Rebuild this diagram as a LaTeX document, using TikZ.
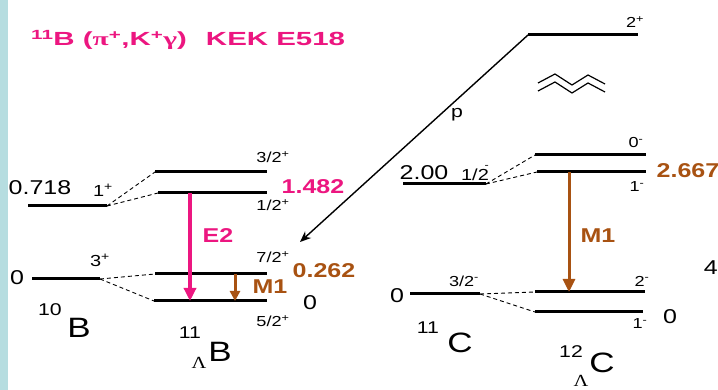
\documentclass[tikz,border=0pt]{standalone}
\usepackage{fontspec}
\setmainfont{Liberation Sans}[FakeStretch=1.25]
\newfontfamily\serf{Liberation Serif}[FakeStretch=1.2]
\newfontfamily\titlefont{Liberation Sans}[FakeStretch=1.55]
\newfontfamily\titleserf{Liberation Serif}[FakeStretch=1.55]
\usetikzlibrary{arrows.meta}
\definecolor{hotpink}{RGB}{236,22,128}
\definecolor{brn}{RGB}{168,82,18}
\definecolor{stripe}{RGB}{182,221,224}
\begin{document}
\begin{tikzpicture}[x=1pt,y=-1pt,
  lvl/.style={line width=3pt},
  dsh/.style={line width=0.9pt, dash pattern=on 4pt off 3pt},
  spin/.style={font=\fontsize{14.5}{14.5}\selectfont, inner sep=0pt},
  bspin/.style={font=\fontsize{16}{16}\selectfont, inner sep=0pt},
  energy/.style={font=\fontsize{20}{20}\selectfont, inner sep=0pt},
  cenergy/.style={font=\bfseries\fontsize{20}{20}\selectfont, inner sep=0pt},
  mult/.style={font=\bfseries\fontsize{20}{20}\selectfont, inner sep=0pt},
  nucl/.style={font=\fontsize{28}{28}\selectfont, inner sep=0pt},
  mass/.style={font=\fontsize{17}{17}\selectfont, inner sep=0pt},
  lam/.style={font=\serf\fontsize{17}{17}\selectfont, inner sep=0pt},
  bigarrow/.style={line width=3.5pt, -{Triangle[length=13pt,width=12pt]}},
  smallarrow/.style={line width=3pt, -{Triangle[length=10pt,width=10pt]}}
]
\useasboundingbox (0,0) rectangle (718,390);
\fill[stripe] (0,0) rectangle (8,390);

% title
\node[anchor=west, inner sep=0pt, text=hotpink, font=\titlefont\bfseries\fontsize{19}{19}\selectfont] (title) at (31,40)
  {\textsuperscript{11}B ({\titleserf\bfseries π}\textsuperscript{+},K\textsuperscript{+}{\titleserf\bfseries γ})\hspace{1.0em}KEK E518};

% ---- 10B ----
\coordinate (b1a) at (28,206); \coordinate (b1b) at (107,206);
\coordinate (b0a) at (32,279); \coordinate (b0b) at (100,279);
\draw[lvl] (b1a) -- (b1b);
\draw[lvl] (b0a) -- (b0b);
\node[energy] (e0718) at (40,188) {0.718};
\node[bspin] (s1p) at (103,190) {1\textsuperscript{+}};
\node[energy] (e0b) at (17,278) {0};
\node[bspin] (s3p) at (100,260) {3\textsuperscript{+}};
\node[mass] (m10) at (50,310) {10};
\node[nucl] (n10B) at (79,328) {B};

% ---- 11 Lambda B ----
\coordinate (l32a) at (155,172); \coordinate (l32b) at (267,172);
\coordinate (l12a) at (158,193); \coordinate (l12b) at (267,193);
\coordinate (l72a) at (155,274); \coordinate (l72b) at (267,274);
\coordinate (l52a) at (154,301); \coordinate (l52b) at (267,301);
\draw[lvl] (l32a) -- (l32b);
\draw[lvl] (l12a) -- (l12b);
\draw[lvl] (l72a) -- (l72b);
\draw[lvl] (l52a) -- (l52b);
\draw[dsh] (b1b) -- (l32a);
\draw[dsh] (b1b) -- (l12a);
\draw[dsh] (b0b) -- (l72a);
\draw[dsh] (b0b) -- (l52a);
\node[spin] (s32) at (273,157) {3/2\textsuperscript{+}};
\node[spin] (s12) at (273,205) {1/2\textsuperscript{+}};
\node[spin] (s72) at (273,257) {7/2\textsuperscript{+}};
\node[spin] (s52) at (273,321) {5/2\textsuperscript{+}};
\node[energy] (e0l) at (310,303) {0};
\node[cenergy, text=hotpink] (e1482) at (313,187) {1.482};
\node[cenergy, text=brn] (e0262) at (324,271) {0.262};
\coordinate (e2top) at (190,193); \coordinate (e2bot) at (190,301);
\draw[bigarrow, hotpink] (e2top) -- (e2bot);
\node[mult, text=hotpink] (lE2) at (218,236) {E2};
\coordinate (m1top) at (235,274); \coordinate (m1bot) at (235,301);
\draw[smallarrow, brn] (m1top) -- (m1bot);
\node[mult, text=brn] (lM1a) at (270,287) {M1};
\node[mass] (m11) at (190,333) {11};
\node[nucl] (n11B) at (220,352) {B};
\node[lam] (lamB) at (199,363) {Λ};

% ---- 11C ----
\coordinate (c2a) at (403,184); \coordinate (c2b) at (486,184);
\coordinate (c0a) at (410,294); \coordinate (c0b) at (480,294);
\draw[lvl] (c2a) -- (c2b);
\draw[lvl] (c0a) -- (c0b);
\node[energy] (e200) at (424,173) {2.00};
\node[bspin] (s12m) at (475,173) {1/2\llap{\raisebox{0.8em}{\fontsize{10}{10}\selectfont -}}};
\node[energy] (e0c) at (397,296) {0};
\node[spin] (s32m) at (464,281) {3/2\textsuperscript{-}};
\node[mass] (m11c) at (428,328) {11};
\node[nucl] (n11C) at (460,343) {C};

% ---- 12 Lambda C ----
\coordinate (t2a) at (528,35); \coordinate (t2b) at (638,35);
\coordinate (u0a) at (535,155); \coordinate (u0b) at (646,155);
\coordinate (u1a) at (537,172); \coordinate (u1b) at (646,172);
\coordinate (g2a) at (535,292); \coordinate (g2b) at (645,292);
\coordinate (g1a) at (535,312); \coordinate (g1b) at (643,312);
\draw[lvl] (t2a) -- (t2b);
\draw[lvl] (u0a) -- (u0b);
\draw[lvl] (u1a) -- (u1b);
\draw[lvl] (g2a) -- (g2b);
\draw[lvl] (g1a) -- (g1b);
\draw[dsh] (c2b) -- (u0a);
\draw[dsh] (c2b) -- (u1a);
\draw[dsh] (c0b) -- (g2a);
\draw[dsh] (c0b) -- (g1a);
\node[spin] (s2p) at (635,22) {2\textsuperscript{+}};
\node[spin] (s0m) at (636,143) {0\textsuperscript{-}};
\node[spin] (s1m) at (637,187) {1\textsuperscript{-}};
\node[spin] (s2m) at (642,281) {2\textsuperscript{-}};
\node[spin] (s1mg) at (640,324) {1\textsuperscript{-}};
\node[energy] (e0g) at (670,317) {0};
\node[cenergy, text=brn] (e2667) at (688,171) {2.667};
\node[energy, anchor=east] (e4) at (718,268) {4};
\coordinate (m1ctop) at (569,172); \coordinate (m1cbot) at (569,292);
\draw[bigarrow, brn, line width=3pt] (m1ctop) -- (m1cbot);
\node[mult, text=brn] (lM1c) at (598,236) {M1};
\node[mass] (m12) at (571,352) {12};
\node[nucl] (n12C) at (602,363) {C};
\node[lam] (lamC) at (581,381) {Λ};

% zigzag (break mark)
\draw[line width=1.2pt] (538,83) -- (555,74) -- (572,85) -- (588,75) -- (605,84);
\draw[line width=1.2pt] (538,91) -- (555,82) -- (572,93) -- (588,83) -- (605,92);

% proton emission
\coordinate (ptip) at (300,242);
\draw[line width=1.4pt, -{Stealth[length=11pt,width=9pt]}] (t2a) -- (ptip);
\node[font=\fontsize{17}{17}\selectfont, inner sep=0pt] (lp) at (457,115) {p};
\end{tikzpicture}
\end{document}
